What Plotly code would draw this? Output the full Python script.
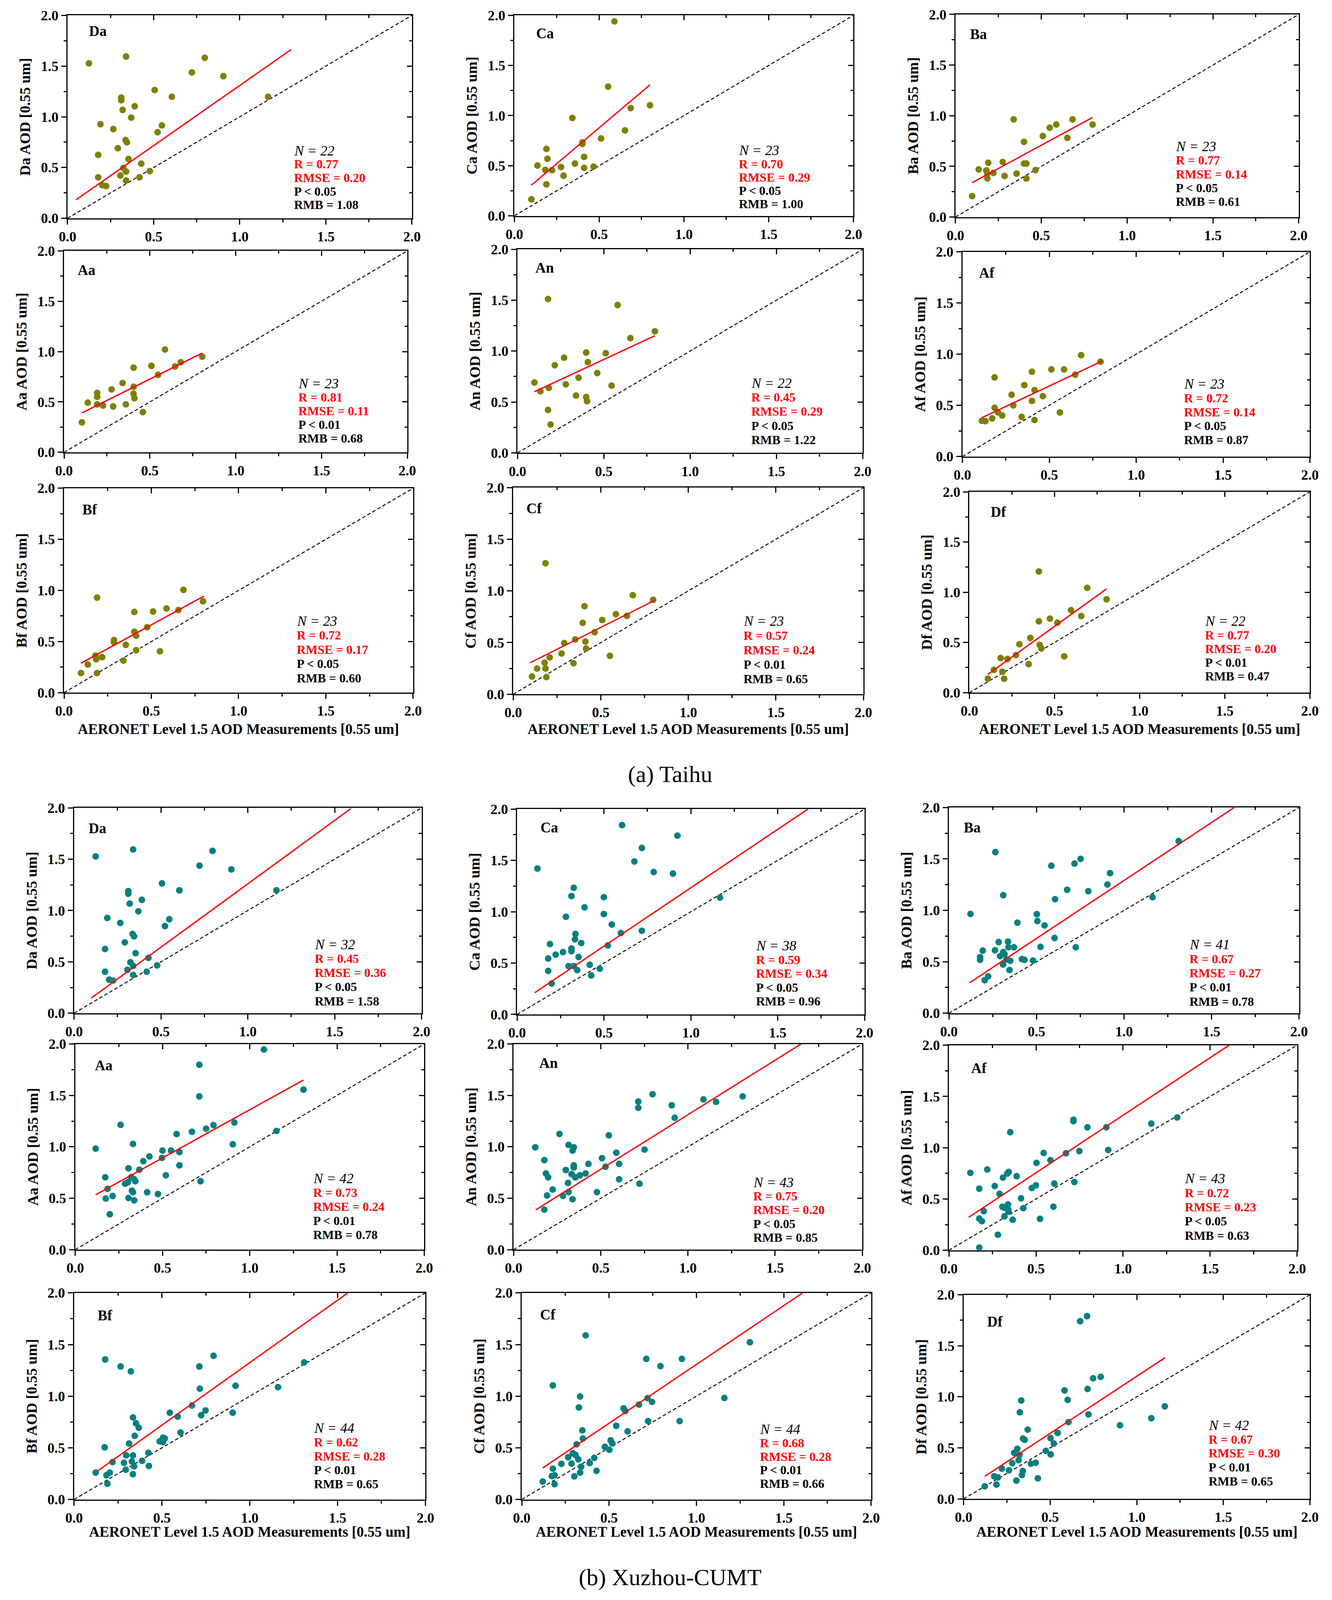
import plotly.graph_objects as go

# ---------------- DATA ----------------
panel_names = ["Da", "Ca", "Ba", "Aa", "An", "Af", "Bf", "Cf", "Df"]

# Taihu
t_Da_x = [0.124,0.340,0.797,0.722,0.905,0.506,0.606,1.165,0.312,0.312,0.390,0.320,0.370,0.191,0.266,0.548,0.523,0.337,0.345,0.292,0.178,0.354,0.428,0.324,0.478,0.340,0.307,0.418,0.178,0.340,0.202,0.224]
t_Da_y = [1.527,1.594,1.581,1.437,1.400,1.264,1.197,1.197,1.189,1.163,1.104,1.067,0.992,0.927,0.879,0.915,0.848,0.771,0.749,0.690,0.625,0.584,0.538,0.496,0.465,0.460,0.422,0.403,0.403,0.372,0.326,0.318]
t_Ca_x = [0.590,0.553,0.342,0.800,0.686,0.652,0.511,0.401,0.401,0.189,0.195,0.411,0.136,0.357,0.275,0.467,0.411,0.182,0.222,0.290,0.189,0.100]
t_Ca_y = [1.940,1.289,0.976,1.103,1.075,0.852,0.772,0.734,0.717,0.667,0.569,0.588,0.502,0.521,0.486,0.491,0.478,0.458,0.455,0.400,0.314,0.165]
t_Ba_x = [0.339,0.682,0.799,0.587,0.549,0.509,0.652,0.399,0.191,0.275,0.399,0.413,0.135,0.180,0.466,0.221,0.356,0.185,0.286,0.186,0.413,0.097]
t_Ba_y = [0.964,0.964,0.913,0.913,0.882,0.800,0.781,0.742,0.536,0.543,0.528,0.528,0.470,0.460,0.463,0.435,0.429,0.427,0.405,0.380,0.380,0.207]
t_Aa_x = [0.588,0.805,0.680,0.509,0.405,0.647,0.548,0.341,0.405,0.277,0.193,0.405,0.193,0.410,0.138,0.193,0.227,0.286,0.360,0.459,0.104]
t_Aa_y = [1.020,0.950,0.893,0.858,0.840,0.852,0.769,0.688,0.650,0.624,0.589,0.581,0.551,0.536,0.493,0.475,0.464,0.455,0.475,0.399,0.297]
t_An_x = [0.177,0.580,0.796,0.654,0.398,0.511,0.270,0.408,0.216,0.462,0.354,0.098,0.280,0.545,0.182,0.133,0.339,0.398,0.403,0.177,0.192]
t_An_y = [1.512,1.452,1.194,1.128,0.986,0.979,0.935,0.892,0.861,0.784,0.738,0.691,0.673,0.661,0.639,0.605,0.563,0.548,0.508,0.422,0.279]
t_Af_x = [0.683,0.795,0.512,0.585,0.400,0.649,0.185,0.356,0.415,0.283,0.463,0.400,0.293,0.185,0.205,0.561,0.229,0.341,0.171,0.415,0.112,0.132]
t_Af_y = [0.990,0.926,0.851,0.851,0.828,0.799,0.773,0.697,0.649,0.604,0.589,0.544,0.499,0.476,0.431,0.431,0.401,0.387,0.372,0.357,0.349,0.345]
t_Bf_x = [0.684,0.189,0.796,0.587,0.655,0.510,0.403,0.476,0.403,0.413,0.286,0.286,0.354,0.413,0.549,0.180,0.218,0.184,0.340,0.136,0.097,0.189]
t_Bf_y = [1.006,0.929,0.894,0.823,0.808,0.794,0.790,0.640,0.596,0.558,0.515,0.492,0.467,0.415,0.404,0.362,0.348,0.327,0.313,0.275,0.192,0.192]
t_Cf_x = [0.184,0.683,0.799,0.407,0.586,0.649,0.508,0.397,0.465,0.354,0.412,0.291,0.416,0.276,0.552,0.208,0.344,0.179,0.136,0.184,0.107,0.189]
t_Cf_y = [1.267,0.958,0.914,0.851,0.775,0.758,0.718,0.691,0.600,0.530,0.509,0.495,0.442,0.394,0.371,0.356,0.299,0.305,0.248,0.248,0.171,0.166]
t_Df_x = [0.408,0.692,0.806,0.597,0.657,0.408,0.473,0.517,0.358,0.294,0.413,0.423,0.557,0.274,0.184,0.224,0.348,0.144,0.194,0.109,0.204]
t_Df_y = [1.207,1.044,0.930,0.822,0.763,0.711,0.737,0.697,0.545,0.482,0.476,0.441,0.362,0.374,0.345,0.335,0.284,0.227,0.208,0.139,0.139]

# Xuzhou-CUMT
x_Da_x = t_Da_x
x_Da_y = t_Da_y
x_Ca_x = [0.604,0.923,0.718,0.675,0.117,0.786,0.897,0.326,0.313,0.499,1.168,0.388,0.499,0.281,0.545,0.718,0.597,0.336,0.333,0.369,0.189,0.522,0.313,0.313,0.264,0.222,0.354,0.179,0.296,0.326,0.418,0.346,0.476,0.179,0.427,0.199]
x_Ca_y = [1.844,1.741,1.621,1.489,1.421,1.386,1.371,1.233,1.152,1.142,1.138,1.042,0.977,0.951,0.876,0.815,0.793,0.783,0.731,0.695,0.685,0.671,0.642,0.616,0.606,0.582,0.559,0.545,0.470,0.470,0.484,0.431,0.445,0.424,0.379,0.300]
x_Ba_x = [1.312,0.265,0.752,0.717,0.585,0.920,0.905,0.675,0.796,0.310,1.163,0.606,0.123,0.502,0.505,0.391,0.546,0.603,0.284,0.337,0.340,0.371,0.523,0.724,0.193,0.263,0.310,0.317,0.292,0.178,0.178,0.328,0.350,0.417,0.431,0.480,0.309,0.346,0.224,0.204]
x_Ba_y = [1.673,1.566,1.501,1.455,1.434,1.362,1.252,1.200,1.186,1.147,1.128,1.108,0.965,0.963,0.896,0.880,0.853,0.731,0.691,0.695,0.641,0.641,0.645,0.641,0.609,0.612,0.595,0.576,0.555,0.545,0.519,0.523,0.509,0.526,0.519,0.512,0.473,0.420,0.358,0.320]
x_Aa_x = [1.081,0.711,1.308,0.711,0.260,0.912,0.792,0.750,0.669,1.153,0.581,0.331,0.117,0.500,0.549,0.597,0.903,0.497,0.425,0.390,0.597,0.305,0.367,0.519,0.321,0.338,0.718,0.344,0.172,0.302,0.286,0.185,0.325,0.331,0.412,0.474,0.214,0.175,0.305,0.338,0.198]
x_Aa_y = [1.946,1.798,1.556,1.490,1.214,1.236,1.211,1.176,1.146,1.154,1.124,1.028,0.982,0.963,0.963,0.949,1.024,0.892,0.906,0.860,0.820,0.791,0.777,0.723,0.705,0.684,0.665,0.665,0.703,0.655,0.641,0.591,0.573,0.559,0.558,0.541,0.522,0.497,0.502,0.479,0.344]
x_An_x = [0.797,1.314,0.715,1.089,1.161,0.907,0.715,0.924,0.263,0.546,0.315,0.124,0.345,0.338,0.751,0.589,0.507,0.176,0.429,0.605,0.345,0.345,0.527,0.299,0.185,0.332,0.413,0.380,0.354,0.198,0.605,0.312,0.722,0.224,0.315,0.478,0.192,0.283,0.338,0.176]
x_An_y = [1.511,1.490,1.440,1.461,1.437,1.404,1.379,1.282,1.125,1.111,1.018,0.995,0.995,0.963,0.973,0.942,0.889,0.870,0.834,0.834,0.820,0.799,0.806,0.774,0.741,0.734,0.741,0.723,0.703,0.703,0.684,0.648,0.641,0.584,0.559,0.559,0.526,0.522,0.490,0.390]
x_Af_x = [1.311,0.715,0.715,1.162,0.795,0.904,0.352,0.915,0.749,0.544,0.672,0.583,0.503,0.220,0.123,0.343,0.335,0.389,0.310,0.720,0.605,0.263,0.499,0.476,0.174,0.291,0.414,0.339,0.600,0.307,0.319,0.427,0.340,0.200,0.342,0.319,0.523,0.174,0.189,0.366,0.281,0.174]
x_Af_y = [1.295,1.273,1.259,1.235,1.199,1.199,1.151,0.978,0.967,0.948,0.945,0.878,0.852,0.787,0.755,0.763,0.748,0.722,0.708,0.665,0.650,0.626,0.633,0.607,0.601,0.550,0.506,0.446,0.424,0.424,0.414,0.410,0.399,0.381,0.377,0.331,0.306,0.309,0.283,0.298,0.151,0.026]
x_Bf_x = [0.794,0.177,1.310,0.265,0.713,0.323,0.919,1.161,0.716,0.671,0.748,0.545,0.903,0.723,0.590,0.335,0.352,0.368,0.606,0.345,0.506,0.516,0.487,0.506,0.313,0.174,0.423,0.297,0.335,0.219,0.387,0.284,0.329,0.342,0.426,0.294,0.123,0.203,0.184,0.335,0.190]
x_Bf_y = [1.391,1.355,1.327,1.287,1.287,1.240,1.101,1.087,1.073,0.909,0.862,0.840,0.840,0.816,0.802,0.795,0.738,0.695,0.648,0.616,0.598,0.591,0.562,0.555,0.541,0.505,0.452,0.427,0.427,0.362,0.374,0.355,0.367,0.321,0.324,0.288,0.260,0.260,0.234,0.245,0.153]
x_Cf_x = [0.366,1.306,0.713,0.917,0.794,0.178,0.334,1.160,0.720,0.746,0.671,0.327,0.583,0.593,0.723,0.904,0.541,0.347,0.606,0.350,0.509,0.519,0.314,0.476,0.502,0.292,0.308,0.266,0.324,0.415,0.227,0.285,0.389,0.340,0.178,0.428,0.334,0.188,0.172,0.301,0.120,0.188]
x_Cf_y = [1.589,1.522,1.361,1.361,1.291,1.104,0.997,0.983,0.980,0.944,0.919,0.890,0.883,0.856,0.759,0.759,0.713,0.669,0.659,0.591,0.573,0.542,0.534,0.509,0.481,0.448,0.431,0.409,0.388,0.402,0.345,0.348,0.352,0.317,0.298,0.277,0.260,0.234,0.227,0.224,0.174,0.148]
x_Df_x = [0.713,0.673,0.792,0.748,0.716,0.583,0.601,0.333,1.162,0.325,0.721,1.084,0.606,0.903,0.370,0.543,0.343,0.353,0.502,0.521,0.310,0.475,0.292,0.323,0.503,0.318,0.281,0.389,0.416,0.221,0.262,0.342,0.337,0.177,0.198,0.429,0.305,0.190,0.122]
x_Df_y = [1.790,1.741,1.195,1.181,1.077,1.062,0.970,0.964,0.906,0.848,0.827,0.790,0.751,0.721,0.678,0.646,0.591,0.578,0.595,0.542,0.490,0.470,0.451,0.429,0.436,0.379,0.350,0.345,0.353,0.296,0.280,0.273,0.234,0.220,0.210,0.201,0.179,0.140,0.123]

# regression line end points: [x_start, x_end], [y_start, y_end]
t_fit_x = [[0.050,1.298],[0.100,0.800],[0.097,0.799],[0.104,0.805],[0.098,0.796],[0.112,0.805],[0.097,0.801],[0.097,0.809],[0.109,0.806]]
t_fit_y = [[0.183,1.662],[0.306,1.307],[0.339,0.983],[0.391,0.985],[0.601,1.151],[0.379,0.933],[0.288,0.944],[0.305,0.909],[0.182,1.034]]
x_fit_x = [[0.098,1.592],[0.101,1.674],[0.119,1.629],[0.117,1.308],[0.127,1.649],[0.113,1.609],[0.135,1.558],[0.120,1.608],[0.122,1.163]]
x_fit_y = [[0.146,1.991],[0.211,2.000],[0.297,2.000],[0.533,1.649],[0.387,2.000],[0.321,2.000],[0.277,2.000],[0.305,2.000],[0.220,1.383]]

# statistics text
t_N = ["22","23","23","23","22","23","23","23","22"]
t_R = ["0.77","0.70","0.77","0.81","0.45","0.72","0.72","0.57","0.77"]
t_RMSE = ["0.20","0.29","0.14","0.11","0.29","0.14","0.17","0.24","0.20"]
t_P = ["0.05","0.05","0.05","0.01","0.05","0.05","0.05","0.01","0.01"]
t_RMB = ["1.08","1.00","0.61","0.68","1.22","0.87","0.60","0.65","0.47"]
x_N = ["32","38","41","42","43","43","44","44","42"]
x_R = ["0.45","0.59","0.67","0.73","0.75","0.72","0.62","0.68","0.67"]
x_RMSE = ["0.36","0.34","0.27","0.24","0.20","0.23","0.28","0.28","0.30"]
x_P = ["0.05","0.05","0.01","0.01","0.05","0.05","0.01","0.01","0.01"]
x_RMB = ["1.58","0.96","0.78","0.78","0.85","0.63","0.65","0.66","0.65"]

tick_vals = [0.0, 0.5, 1.0, 1.5, 2.0]
tick_text = ["0.0", "0.5", "1.0", "1.5", "2.0"]
minor_vals = [0.25, 0.75, 1.25, 1.75]
x_title = "AERONET Level 1.5 AOD Measurements [0.55 um]"
captions = ["(a) Taihu", "(b) Xuzhou-CUMT"]

# ---------------- LAYOUT (reference pixel boxes -> paper fractions) ----------------
W, H = 3411, 5200
boxes = [  # x0, x1, ytop, ybottom in reference pixels
    (152,1046,26,692),(1312,2192,26,684),(2457,3348,23,688),
    (143,1034,799,1460),(1320,2216,794,1462),(2475,3377,802,1474),
    (143,1049,1578,2249),(1309,2218,1576,2254),(2493,3377,1590,2249),
    (169,1071,2627,3301),(1319,2221,2631,3305),(2440,3349,2626,3301),
    (172,1078,3402,4077),(1310,2215,3402,4077),(2440,3344,3406,4079),
    (169,1081,4219,4897),(1331,2238,4219,4897),(2478,3377,4225,4895),
]
stat_x = [1.31,1.32,1.28,1.36,1.35,1.27,1.33,1.31,1.38, 1.38,1.37,1.37,1.36,1.37,1.35,1.36,1.36,1.41]
stat_ytop = [0.667,0.651,0.696,0.680,0.685,0.709,0.702,0.709,0.711, 0.668,0.668,0.667,0.691,0.655,0.698,0.690,0.680,0.721]
stat_ybot = [0.132,0.118,0.152,0.140,0.128,0.162,0.144,0.149,0.163, 0.119,0.128,0.115,0.143,0.118,0.144,0.150,0.153,0.172]
lab_x = [0.12,0.123,0.08,0.074,0.10,0.09,0.10,0.07,0.12, 0.08,0.13,0.08,0.107,0.143,0.123,0.13,0.10,0.132]
lab_y = [1.845,1.82,1.806,1.81,1.82,1.795,1.79,1.80,1.80, 1.80,1.82,1.806,1.79,1.816,1.777,1.78,1.79,1.737]
xtitle_y_px = [2368, 5003]
caption_y_px = [2517, 5152]
caption_x_px = 1716

FONT = "Liberation Serif"
OLIVE = "#7f7f00"
TEAL = "#008080"
RED = "#ff0000"

t_xs = [t_Da_x, t_Ca_x, t_Ba_x, t_Aa_x, t_An_x, t_Af_x, t_Bf_x, t_Cf_x, t_Df_x]
t_ys = [t_Da_y, t_Ca_y, t_Ba_y, t_Aa_y, t_An_y, t_Af_y, t_Bf_y, t_Cf_y, t_Df_y]
x_xs = [x_Da_x, x_Ca_x, x_Ba_x, x_Aa_x, x_An_x, x_Af_x, x_Bf_x, x_Cf_x, x_Df_x]
x_ys = [x_Da_y, x_Ca_y, x_Ba_y, x_Aa_y, x_An_y, x_Af_y, x_Bf_y, x_Cf_y, x_Df_y]

panels = []
for i in range(9):
    panels.append(dict(name=panel_names[i], x=t_xs[i], y=t_ys[i], fx=t_fit_x[i], fy=t_fit_y[i],
                       N=t_N[i], R=t_R[i], RMSE=t_RMSE[i], P=t_P[i], RMB=t_RMB[i], color=OLIVE))
for i in range(9):
    panels.append(dict(name=panel_names[i], x=x_xs[i], y=x_ys[i], fx=x_fit_x[i], fy=x_fit_y[i],
                       N=x_N[i], R=x_R[i], RMSE=x_RMSE[i], P=x_P[i], RMB=x_RMB[i], color=TEAL))

fig = go.Figure()
layout = dict(autosize=True, margin=dict(l=0, r=0, t=0, b=0),
              paper_bgcolor="white", plot_bgcolor="white", showlegend=False)
annotations = []


def axid(n):
    return "" if n == 1 else str(n)


tickfont = dict(family=FONT, size=36, color="black", weight="bold")


def minor(side_ticks):
    return dict(tickvals=minor_vals, ticklen=7, tickwidth=3, tickcolor="black", ticks=side_ticks)


for p, pan in enumerate(panels):
    m = 2 * p + 1
    n = 2 * p + 2
    x0, x1, yt, yb = boxes[p]
    xd = [x0 / W, x1 / W]
    yd = [1 - yb / H, 1 - yt / H]
    xr, yr = "x" + axid(m), "y" + axid(m)
    common = dict(range=[0, 2], tickvals=tick_vals, ticktext=tick_text, showgrid=False,
                  zeroline=False, showline=True, linecolor="black", linewidth=3,
                  tickcolor="black", tickwidth=3, ticklen=13, fixedrange=True)
    layout["xaxis" + axid(m)] = dict(common, domain=xd, anchor=yr, ticks="outside",
                                     tickfont=tickfont, side="bottom", minor=minor("outside"))
    layout["yaxis" + axid(m)] = dict(common, domain=yd, anchor=xr, ticks="outside",
                                     tickfont=tickfont, side="left", minor=minor("outside"),
                                     title=dict(text=pan["name"] + " AOD [0.55 um]",
                                                font=dict(family=FONT, size=38, color="black", weight="bold"),
                                                standoff=16))
    # top / right axes with inward ticks
    layout["xaxis" + axid(n)] = dict(common, overlaying=xr, anchor=yr, side="top", ticks="inside",
                                     showticklabels=False, minor=minor("inside"))
    layout["yaxis" + axid(n)] = dict(common, overlaying=yr, anchor=xr, side="right", ticks="inside",
                                     showticklabels=False, minor=minor("inside"))
    fig.add_trace(go.Scatter(x=[None], y=[None], xaxis="x" + axid(n), yaxis="y" + axid(n),
                             mode="markers", hoverinfo="skip", showlegend=False))

    # 1:1 line
    fig.add_trace(go.Scatter(x=[0, 2], y=[0, 2], mode="lines", xaxis=xr, yaxis=yr,
                             line=dict(color="black", width=2.5, dash="9px,6px"), hoverinfo="skip"))
    # points
    fig.add_trace(go.Scatter(x=pan["x"], y=pan["y"], mode="markers", xaxis=xr, yaxis=yr,
                             marker=dict(color=pan["color"], size=17, line=dict(width=0))))
    # fitted line
    fig.add_trace(go.Scatter(x=pan["fx"], y=pan["fy"], mode="lines", xaxis=xr, yaxis=yr,
                             line=dict(color=RED, width=3.5), hoverinfo="skip"))

    # panel label
    annotations.append(dict(x=lab_x[p], y=lab_y[p], xref=xr, yref=yr, text=pan["name"],
                            showarrow=False, xanchor="left", yanchor="middle",
                            font=dict(family=FONT, size=37, color="black", weight="bold")))
    # statistics
    lines = [("<i>N</i> = " + pan["N"], "black", "italic", "normal"),
             ("R = " + pan["R"], RED, "normal", "bold"),
             ("RMSE = " + pan["RMSE"], RED, "normal", "bold"),
             ("P &lt; " + pan["P"], "black", "normal", "bold"),
             ("RMB = " + pan["RMB"], "black", "normal", "bold")]
    for k, (txt, col, sty, wt) in enumerate(lines):
        yy = stat_ytop[p] + (stat_ybot[p] - stat_ytop[p]) * k / 4
        annotations.append(dict(x=stat_x[p], y=yy, xref=xr, yref=yr, text=txt, showarrow=False,
                                xanchor="left", yanchor="middle",
                                font=dict(family=FONT, size=32 if k else 36, color=col, style=sty, weight=wt)))

# x-axis titles under bottom rows, and block captions
for blk in range(2):
    for c in range(3):
        x0, x1, yt, yb = boxes[blk * 9 + 6 + c]
        annotations.append(dict(x=(x0 + x1) / 2 / W, y=1 - xtitle_y_px[blk] / H, xref="paper", yref="paper",
                                text=x_title, showarrow=False, xanchor="center", yanchor="middle",
                                font=dict(family=FONT, size=37, color="black", weight="bold")))
    annotations.append(dict(x=caption_x_px / W, y=1 - caption_y_px[blk] / H, xref="paper", yref="paper",
                            text=captions[blk], showarrow=False, xanchor="center", yanchor="middle",
                            font=dict(family=FONT, size=60, color="black")))

layout["annotations"] = annotations
fig.update_layout(**layout)

post = ("document.body.style.margin='0';"
        "document.documentElement.style.overflow='hidden';"
        "document.body.style.overflow='hidden';"
        "var gd=document.getElementById('{plot_id}');"
        "Plotly.Plots.resize(gd);")
fig.write_html("out.html", config={"responsive": True, "displayModeBar": False},
               default_width="100%", default_height="100vh", post_script=post)
